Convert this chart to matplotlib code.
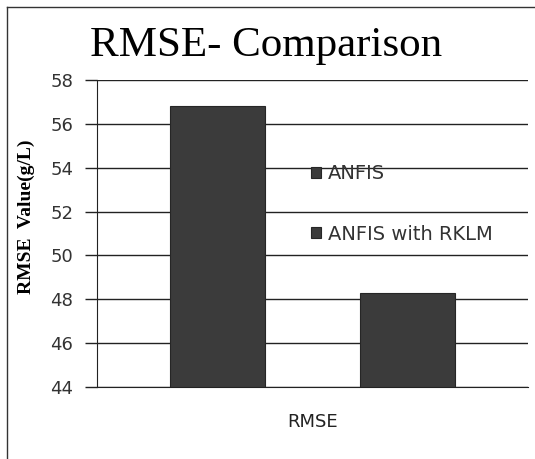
import matplotlib
matplotlib.use('Agg')
import matplotlib.pyplot as plt
from matplotlib.lines import Line2D

# data
category = ['RMSE']
series = ['ANFIS', 'ANFIS with RKLM']
values = [56.8, 48.3]
yticks = [44, 46, 48, 50, 52, 54, 56, 58]

fig = plt.figure(figsize=(5.35, 4.59), dpi=100)
ax = fig.add_axes([97/535, 1 - 387/459, 431/535, 307/459])

bar_color = '#3b3b3b'
width = 0.22
offsets = [-0.22, 0.22]
for name, v, off in zip(series, values, offsets):
    ax.bar(0 + off, v - 44, width=width, bottom=44, color=bar_color,
           edgecolor='#262626', linewidth=0.8, label=name, zorder=3)

ax.set_xlim(-0.5, 0.5)
ax.set_ylim(44, 58)
ax.set_yticks(yticks)
ax.set_xticks([0])
ax.set_xticklabels(category, fontsize=13, family='DejaVu Sans', color='#222222')
ax.tick_params(axis='x', length=0, pad=19)
ax.tick_params(axis='y', length=9, width=1, labelsize=13, pad=8, color='#222222')
for lbl in ax.get_yticklabels():
    lbl.set_family('DejaVu Sans')
    lbl.set_color('#333333')

ax.grid(axis='y', color='#222222', linewidth=1, zorder=0)
ax.set_axisbelow(True)
for s in ['top', 'right']:
    ax.spines[s].set_visible(False)
ax.spines['left'].set_color('#222222')
ax.spines['bottom'].set_color('#222222')

fig.text(26/535, 1 - 217/459, 'RMSE  Value(g/L)', fontsize=14, fontweight='bold',
         family='Liberation Serif', rotation=90, ha='center', va='center')

fig.text(266/535, 1 - 46/459, 'RMSE- Comparison', fontsize=31,
         family='Liberation Serif', ha='center', va='center')

leg = ax.legend(loc='upper left', bbox_to_anchor=(214/431, 1 - 84/307),
                frameon=False, fontsize=14, handlelength=0.5, handleheight=0.5,
                handletextpad=0.35, labelspacing=2.15, borderpad=0,
                borderaxespad=0)
for t in leg.get_texts():
    t.set_color('#333333')

# outer border (top and left edges only, image is cropped on the other sides)
fig.lines.append(Line2D([7/535, 7/535], [0, 1 - 7/459], transform=fig.transFigure,
                        color='#333333', linewidth=1))
fig.lines.append(Line2D([7/535, 1], [1 - 7/459, 1 - 7/459], transform=fig.transFigure,
                        color='#333333', linewidth=1))

fig.savefig('out.png', dpi=100)
